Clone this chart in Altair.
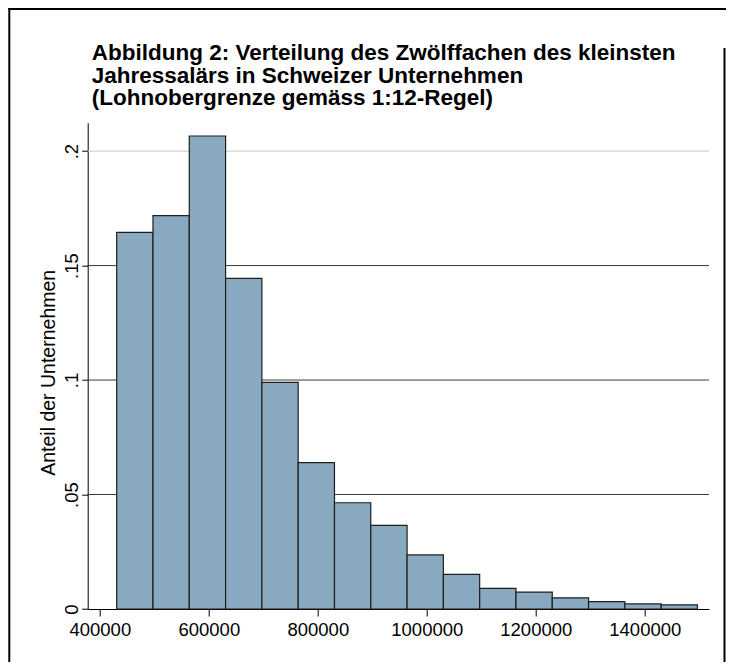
import altair as alt
import pandas as pd

# ---- data ----
bin_edges = [431000, 497600, 564200, 630800, 697400, 764000, 830600, 897200,
             963800, 1030400, 1097000, 1163600, 1230200, 1296800, 1363400,
             1430000, 1496600]
fractions = [0.1645, 0.1718, 0.2066, 0.1444, 0.0990, 0.0639, 0.0464, 0.0365,
             0.0236, 0.0151, 0.0090, 0.0074, 0.0049, 0.0032, 0.0022, 0.0018]
x_ticks = [400000, 600000, 800000, 1000000, 1200000, 1400000]
y_ticks = [0, 0.05, 0.1, 0.15, 0.2]
grid_values = [0.05, 0.1, 0.15, 0.2]
grid_colors = ["#3a3a3a", "#3a3a3a", "#3a3a3a", "#c4c4c4"]
x_domain = [377800, 1517800]
y_domain = [0, 0.2124]
title_lines = [
    "Abbildung 2: Verteilung des Zwölffachen des kleinsten",
    "Jahressalärs in Schweizer Unternehmen",
    "(Lohnobergrenze gemäss 1:12-Regel)",
]
y_title = "Anteil der Unternehmen"

bars_df = pd.DataFrame({"start": bin_edges[:-1], "end": bin_edges[1:], "frac": fractions})
grid_df = pd.DataFrame({"value": grid_values, "color": grid_colors})
frame_df = pd.DataFrame({"k": [0]})

W, H = 621.3, 486.3
FONT = "Liberation Sans"

xscale = alt.Scale(domain=x_domain, nice=False, zero=False)
yscale = alt.Scale(domain=y_domain, nice=False)

y_axis = alt.Axis(values=y_ticks, title=y_title, grid=False,
                  labelExpr="datum.value == 0 ? '0' : substring(format(datum.value, '~g'), 1)",
                  labelAngle=270, labelAlign="center", labelBaseline="bottom",
                  tickSize=6, labelPadding=0, labelFontSize=18.5,
                  labelFont=FONT, labelColor="black",
                  domainColor="black", tickColor="black",
                  labelFlush=False, labelOverlap=False,
                  titleFont=FONT, titleFontSize=19.5, titleFontWeight="normal",
                  titleColor="black", titleAngle=270, titleAlign="center",
                  titleBaseline="middle", titleX=-39.4, titleY=249.6)

x_axis = alt.Axis(values=x_ticks, format="d", title=None, grid=False,
                  tickSize=7, labelPadding=4, labelFontSize=18.5,
                  labelFont=FONT, labelColor="black",
                  domainColor="black", tickColor="black",
                  labelFlush=False, labelOverlap=False)

grid = alt.Chart(grid_df).mark_rule(strokeWidth=1).encode(
    y=alt.Y("value:Q", scale=yscale, axis=y_axis),
    color=alt.Color("color:N", scale=None),
)

bars = alt.Chart(bars_df).mark_rect(
    fill="#88a9c0", stroke="#1e1e1e", strokeWidth=1.2
).encode(
    x=alt.X("start:Q", scale=xscale, axis=x_axis),
    x2="end:Q",
    y=alt.Y("frac:Q", scale=yscale, axis=y_axis),
    y2=alt.datum(0),
)

# outer border of the figure (decoration, in pixels relative to the plot area)
frame_left = alt.Chart(frame_df).mark_rule(color="black", strokeWidth=2).encode(
    x=alt.value(-78.4), y=alt.value(-114.7), y2=alt.value(560))
frame_top = alt.Chart(frame_df).mark_rule(color="black", strokeWidth=2).encode(
    x=alt.value(-79.4), x2=alt.value(650), y=alt.value(-113.7))
frame_right = alt.Chart(frame_df).mark_rule(color="black", strokeWidth=2).encode(
    x=alt.value(636.8), y=alt.value(-74.7), y2=alt.value(560))

chart = alt.layer(grid, bars, frame_left, frame_top, frame_right).properties(
    width=W, height=H,
    background="white",
    title=alt.TitleParams(text=title_lines, anchor="start", frame="group",
                          font=FONT, fontSize=22.5, fontWeight="bold", color="black",
                          lineHeight=22.7, dx=4, offset=-103),
    autosize=alt.AutoSizeParams(type="none"),
    padding={"left": 79.7, "top": 114.7, "right": 17, "bottom": 53},
).configure_view(stroke=None)

chart.save("out.html", embed_options={"renderer": "svg", "actions": False})
